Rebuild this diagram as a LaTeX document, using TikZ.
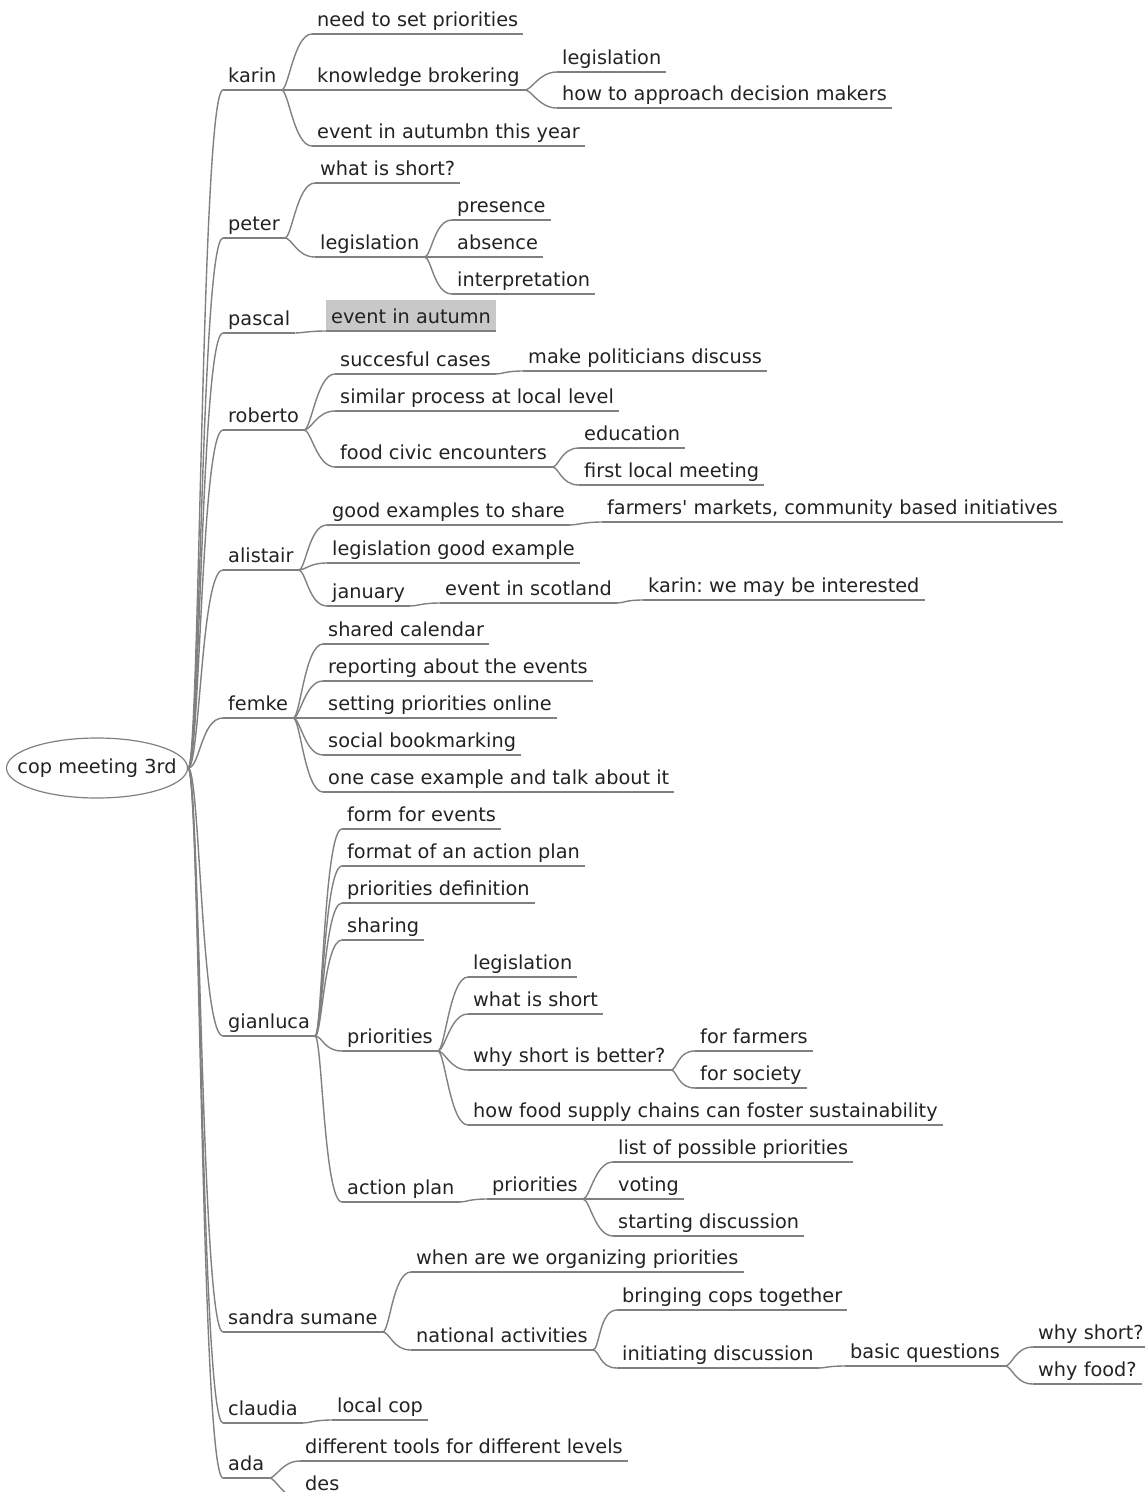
\documentclass[tikz,border=0pt]{standalone}
\usepackage{fontspec}
\setmainfont{DejaVu Sans}[Ligatures=TeXOff]
\usetikzlibrary{shapes.geometric}
\definecolor{txt}{HTML}{222222}
\definecolor{wire}{HTML}{808080}
\definecolor{hl}{HTML}{C8C8C8}
\frenchspacing
% fork-style connector: from the parent's underline end to the child's underline start
\newcommand\mmlink[2]{\draw[edge] (#1.south east) .. controls +(7,0) and +(-18,0) .. (#2.south west);}
\newcommand\mmroot[1]{\draw[edge] (root.east) .. controls +(12,0) and +(-22,0) .. (#1.south west);}
\begin{document}
\begin{tikzpicture}[x=1pt,y=-1pt,
  every node/.style={font=\fontsize{19.3}{23}\selectfont, text=txt},
  lbl/.style={anchor=south west, inner xsep=5pt, inner ysep=0pt, text height=14pt, text depth=7.5pt},
  marked/.style={fill=hl, text height=23pt},
  edge/.style={draw=wire, line width=1.4pt},
  uline/.style={draw=wire, line width=1.4pt}]
\useasboundingbox (0,0) rectangle (1144,1492);

% central topic
\node[ellipse, draw=wire, line width=1.2pt, minimum width=181pt, minimum height=60pt, inner sep=0pt] (root) at (97,768) {\makebox[0pt]{cop meeting 3rd}};

% first level
\node[lbl] (karin)    at (223,90)   {karin};
\node[lbl] (peter)    at (223,238)  {peter};
\node[lbl] (pascal)   at (223,333)  {pascal};
\node[lbl] (roberto)  at (223,430)  {roberto};
\node[lbl] (alistair) at (223,570)  {alistair};
\node[lbl] (femke)    at (223,718)  {femke};
\node[lbl] (gianluca) at (223,1036) {gianluca};
\node[lbl] (sandra)   at (223,1332) {sandra sumane};
\node[lbl] (claudia)  at (223,1423) {claudia};
\node[lbl] (ada)      at (223,1478) {ada};

% karin
\node[lbl] (ka1) at (312,34)  {need to set priorities};
\node[lbl] (ka2) at (312,90)  {knowledge brokering};
\node[lbl] (ka3) at (312,146) {event in autumbn this year};
\node[lbl] (ka21) at (557,72)  {legislation};
\node[lbl] (ka22) at (557,108) {how to approach decision makers};

% peter
\node[lbl] (pe1) at (315,183) {what is short?};
\node[lbl] (pe2) at (315,257) {legislation};
\node[lbl] (pe21) at (452,220) {presence};
\node[lbl] (pe22) at (452,257) {absence};
\node[lbl] (pe23) at (452,294) {interpretation};

% pascal
\node[lbl, marked] (pa1) at (326,331) {event in autumn};

% roberto
\node[lbl] (ro1) at (335,374) {succesful cases};
\node[lbl] (ro2) at (335,411) {similar process at local level};
\node[lbl] (ro3) at (335,467) {food civic encounters};
\node[lbl] (ro11) at (523,371) {make politicians discuss};
\node[lbl] (ro31) at (579,448) {education};
\node[lbl] (ro32) at (579,485) {first local meeting};

% alistair
\node[lbl] (al1) at (327,525) {good examples to share};
\node[lbl] (al2) at (327,563) {legislation good example};
\node[lbl] (al3) at (327,606) {january};
\node[lbl] (al11) at (602,522) {farmers' markets, community based initiatives};
\node[lbl] (al31) at (440,603) {event in scotland};
\node[lbl] (al311) at (643,600) {karin: we may be interested};

% femke
\node[lbl] (fe1) at (323,644) {shared calendar};
\node[lbl] (fe2) at (323,681) {reporting about the events};
\node[lbl] (fe3) at (323,718) {setting priorities online};
\node[lbl] (fe4) at (323,755) {social bookmarking};
\node[lbl] (fe5) at (323,792) {one case example and talk about it};

% gianluca
\node[lbl] (gi1) at (342,829)  {form for events};
\node[lbl] (gi2) at (342,866)  {format of an action plan};
\node[lbl] (gi3) at (342,903)  {priorities definition};
\node[lbl] (gi4) at (342,940)  {sharing};
\node[lbl] (gi5) at (342,1051) {priorities};
\node[lbl] (gi6) at (342,1202) {action plan};
\node[lbl] (gi51) at (468,977)  {legislation};
\node[lbl] (gi52) at (468,1014) {what is short};
\node[lbl] (gi53) at (468,1070) {why short is better?};
\node[lbl] (gi54) at (468,1125) {how food supply chains can foster sustainability};
\node[lbl] (gi531) at (695,1051) {for farmers};
\node[lbl] (gi532) at (695,1088) {for society};
\node[lbl] (gi61) at (487,1199) {priorities};
\node[lbl] (gi611) at (613,1162) {list of possible priorities};
\node[lbl] (gi612) at (613,1199) {voting};
\node[lbl] (gi613) at (613,1236) {starting discussion};

% sandra sumane
\node[lbl] (sa1) at (411,1272) {when are we organizing priorities};
\node[lbl] (sa2) at (411,1350) {national activities};
\node[lbl] (sa21) at (617,1310) {bringing cops together};
\node[lbl] (sa22) at (617,1368) {initiating discussion};
\node[lbl] (sa221) at (845,1366) {basic questions};
\node[lbl] (sa2211) at (1033,1347) {why short?};
\node[lbl] (sa2212) at (1033,1384) {why food?};

% claudia
\node[lbl] (cl1) at (332,1420) {local cop};

% ada
\node[lbl] (ad1) at (300,1461) {different tools for different levels};
\node[lbl] (ad2) at (300,1498) {des};

% underlines
\foreach \n in {karin,peter,pascal,roberto,alistair,femke,gianluca,sandra,claudia,ada,
  ka1,ka2,ka3,ka21,ka22,pe1,pe2,pe21,pe22,pe23,pa1,ro1,ro2,ro3,ro11,ro31,ro32,
  al1,al2,al3,al11,al31,al311,fe1,fe2,fe3,fe4,fe5,
  gi1,gi2,gi3,gi4,gi5,gi6,gi51,gi52,gi53,gi54,gi531,gi532,gi61,gi611,gi612,gi613,
  sa1,sa2,sa21,sa22,sa221,sa2211,sa2212,cl1,ad1,ad2}
  {\draw[uline] (\n.south west) -- (\n.south east);}

% connectors from the central topic
\foreach \n in {karin,peter,pascal,roberto,alistair,femke,gianluca,sandra,claudia,ada}
  {\mmroot{\n}}

% connectors between topics
\mmlink{karin}{ka1} \mmlink{karin}{ka2} \mmlink{karin}{ka3}
\mmlink{ka2}{ka21} \mmlink{ka2}{ka22}
\mmlink{peter}{pe1} \mmlink{peter}{pe2}
\mmlink{pe2}{pe21} \mmlink{pe2}{pe22} \mmlink{pe2}{pe23}
\mmlink{pascal}{pa1}
\mmlink{roberto}{ro1} \mmlink{roberto}{ro2} \mmlink{roberto}{ro3}
\mmlink{ro1}{ro11} \mmlink{ro3}{ro31} \mmlink{ro3}{ro32}
\mmlink{alistair}{al1} \mmlink{alistair}{al2} \mmlink{alistair}{al3}
\mmlink{al1}{al11} \mmlink{al3}{al31} \mmlink{al31}{al311}
\mmlink{femke}{fe1} \mmlink{femke}{fe2} \mmlink{femke}{fe3} \mmlink{femke}{fe4} \mmlink{femke}{fe5}
\mmlink{gianluca}{gi1} \mmlink{gianluca}{gi2} \mmlink{gianluca}{gi3}
\mmlink{gianluca}{gi4} \mmlink{gianluca}{gi5} \mmlink{gianluca}{gi6}
\mmlink{gi5}{gi51} \mmlink{gi5}{gi52} \mmlink{gi5}{gi53} \mmlink{gi5}{gi54}
\mmlink{gi53}{gi531} \mmlink{gi53}{gi532}
\mmlink{gi6}{gi61}
\mmlink{gi61}{gi611} \mmlink{gi61}{gi612} \mmlink{gi61}{gi613}
\mmlink{sandra}{sa1} \mmlink{sandra}{sa2}
\mmlink{sa2}{sa21} \mmlink{sa2}{sa22}
\mmlink{sa22}{sa221}
\mmlink{sa221}{sa2211} \mmlink{sa221}{sa2212}
\mmlink{claudia}{cl1}
\mmlink{ada}{ad1} \mmlink{ada}{ad2}
\end{tikzpicture}
\end{document}
